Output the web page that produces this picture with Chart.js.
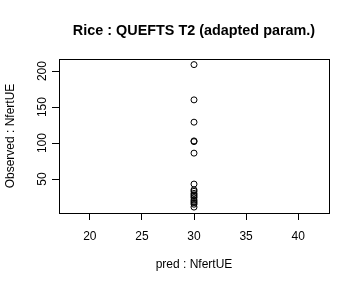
<!DOCTYPE html>
<html>
<head>
<meta charset="utf-8">
<script src="https://cdn.jsdelivr.net/npm/chart.js@4"></script>
<style>
html,body{margin:0;padding:0;background:#fff;}
#wrap{width:360px;height:288px;position:relative;}
</style>
</head>
<body>
<div id="wrap"><canvas id="c" width="360" height="288"></canvas></div>
<script>
const chartTitle = "Rice : QUEFTS T2 (adapted param.)";
const xAxisLabel = "pred : NfertUE";
const yAxisLabel = "Observed : NfertUE";
const predicted = [30,30,30,30,30,30,30,30,30,30,30,30,30,30,30,30,30,30];
const observed  = [209,160,129,103,102,86,43,35,33,30,28,26,24,21,19,17,15,11];
const xTicks = [20,25,30,35,40];
const yTicks = [50,100,150,200];

const points = predicted.map((p,i)=>({x:p,y:observed[i]}));
const font = "'Liberation Sans', Arial, Helvetica, sans-serif";

const labelsPlugin = {
  id:'rlabels',
  afterDraw(chart){
    const ctx = chart.ctx, a = chart.chartArea;
    const xs = chart.scales.x, ys = chart.scales.y;
    ctx.save();
    // box
    ctx.strokeStyle = '#000'; ctx.lineWidth = 1;
    ctx.strokeRect(Math.round(a.left)+0.5, Math.round(a.top)+0.5, Math.round(a.right-a.left), Math.round(a.bottom-a.top));
    ctx.fillStyle = '#000';
    // title
    ctx.font = "bold 14.4px " + font;
    ctx.textAlign = 'center'; ctx.textBaseline = 'middle';
    ctx.fillText(chartTitle, (a.left+a.right)/2, 31);
    // x tick labels
    ctx.font = "12px " + font;
    xTicks.forEach(v=>{ ctx.fillText(String(v), xs.getPixelForValue(v), 237); });
    // x axis label
    ctx.fillText(xAxisLabel, (a.left+a.right)/2, 265);
    // y tick labels (rotated)
    yTicks.forEach(v=>{
      ctx.save();
      ctx.translate(43, ys.getPixelForValue(v));
      ctx.rotate(-Math.PI/2);
      ctx.fillText(String(v), 0, 0);
      ctx.restore();
    });
    // y axis label
    ctx.save();
    ctx.translate(11, (a.top+a.bottom)/2);
    ctx.rotate(-Math.PI/2);
    ctx.fillText(yAxisLabel, 0, 0);
    ctx.restore();
    ctx.restore();
  }
};

new Chart(document.getElementById('c'), {
  type:'scatter',
  data:{datasets:[{
    data:points,
    pointStyle:'circle',
    pointRadius:3,
    pointHoverRadius:3,
    borderColor:'#000',
    backgroundColor:'rgba(0,0,0,0)',
    borderWidth:1
  }]},
  options:{
    responsive:false,
    animation:false,
    events:[],
    layout:{padding:{top:59,right:31,left:0,bottom:0}},
    plugins:{legend:{display:false},title:{display:false},tooltip:{enabled:false}},
    scales:{
      x:{
        type:'linear', min:17.04, max:42.96,
        afterBuildTicks(s){ s.ticks = xTicks.map(v=>({value:v})); },
        afterFit(s){ s.height = 75; },
        ticks:{display:false},
        grid:{drawOnChartArea:false, drawTicks:true, tickLength:7, color:'#000', lineWidth:1},
        border:{display:false}
      },
      y:{
        type:'linear', min:2.8, max:216.8,
        afterBuildTicks(s){ s.ticks = yTicks.map(v=>({value:v})); },
        afterFit(s){ s.width = 59; },
        ticks:{display:false},
        grid:{drawOnChartArea:false, drawTicks:true, tickLength:7, color:'#000', lineWidth:1},
        border:{display:false}
      }
    }
  },
  plugins:[labelsPlugin]
});
</script>
</body>
</html>
